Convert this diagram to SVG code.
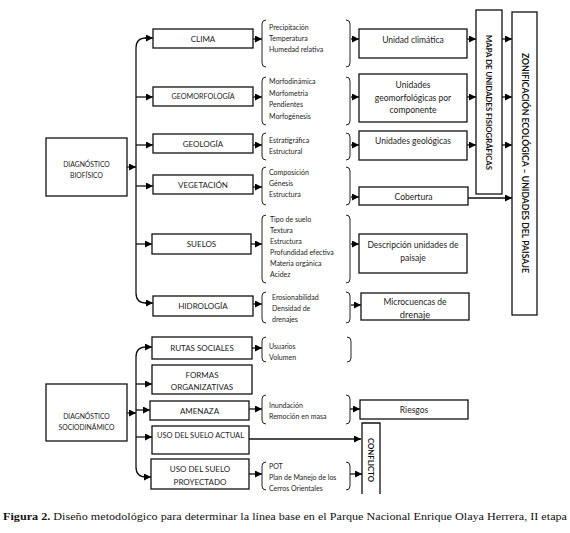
<svg xmlns="http://www.w3.org/2000/svg" width="570" height="533" viewBox="0 0 570 533">
<defs>
<marker id="ah" viewBox="0 0 10 10" refX="10" refY="5" markerWidth="7" markerHeight="7" markerUnits="userSpaceOnUse" orient="auto">
<path d="M0,0 L10,5 L0,10 z" fill="#000"/>
</marker>
<style>
.b{fill:#fff;stroke:#111;stroke-width:1.3}
.c{fill:none;stroke:#111;stroke-width:1.3;marker-end:url(#ah)}
.l{fill:none;stroke:#111;stroke-width:1.3}
.br{fill:none;stroke:#222;stroke-width:1}
.t{font-family:Lato,"Liberation Sans",sans-serif;font-size:8px;fill:#222;text-anchor:middle;dominant-baseline:central}
.s{font-family:Lato,"Liberation Sans",sans-serif;font-size:7px;fill:#222}
.u{font-family:Lato,"Liberation Sans",sans-serif;font-size:8.5px;fill:#222;text-anchor:middle;dominant-baseline:central}
.v{font-family:Lato,"Liberation Sans",sans-serif;font-weight:bold;fill:#111;text-anchor:middle;dominant-baseline:central}
</style>
</defs>
<rect width="570" height="533" fill="#fff"/>

<g id="connectors">
<!-- biofisico -->
<line class="c" x1="127" y1="167" x2="136" y2="167"/>
<path class="l" d="M136,48 Q136,38 146,38 L146,38"/>
<line class="c" x1="145" y1="38" x2="153" y2="38"/>
<line class="l" x1="136" y1="48" x2="136" y2="293"/>
<path class="l" d="M136,293 Q136,303 146,303"/>
<line class="c" x1="145" y1="303" x2="153" y2="303"/>
<line class="c" x1="136" y1="97" x2="153" y2="97"/>
<line class="c" x1="136" y1="145" x2="153" y2="145"/>
<line class="c" x1="136" y1="186" x2="153" y2="186"/>
<line class="c" x1="136" y1="244" x2="152" y2="244"/>
<!-- boxes to braces -->
<line class="c" x1="253" y1="39" x2="262" y2="39"/>
<line class="c" x1="253" y1="97" x2="262" y2="97"/>
<line class="c" x1="253" y1="145" x2="262" y2="145"/>
<line class="c" x1="253" y1="187" x2="262" y2="187"/>
<line class="c" x1="251" y1="244" x2="262" y2="244"/>
<line class="c" x1="253" y1="304" x2="262" y2="304"/>
<!-- braces to result boxes -->
<line class="c" x1="351" y1="39" x2="359" y2="39"/>
<line class="c" x1="351" y1="97" x2="359" y2="97"/>
<line class="c" x1="351" y1="145" x2="359" y2="145"/>
<line class="c" x1="351" y1="197" x2="359" y2="197"/>
<line class="c" x1="351" y1="244" x2="359" y2="244"/>
<line class="c" x1="351" y1="305" x2="361" y2="305"/>
<!-- to mapa / zonificacion -->
<line class="c" x1="467" y1="39" x2="476" y2="39"/>
<line class="c" x1="467" y1="97" x2="476" y2="97"/>
<line class="c" x1="467" y1="145" x2="476" y2="145"/>
<line class="c" x1="502" y1="39" x2="512" y2="39"/>
<line class="c" x1="502" y1="97" x2="512" y2="97"/>
<line class="c" x1="502" y1="145" x2="512" y2="145"/>
<line class="c" x1="468" y1="198" x2="512" y2="198"/>
<!-- sociodinamico -->
<line class="c" x1="127" y1="413" x2="136" y2="413"/>
<path class="l" d="M136,357 Q136,347 146,347"/>
<line class="c" x1="145" y1="347" x2="152" y2="347"/>
<line class="l" x1="136" y1="357" x2="136" y2="467"/>
<path class="l" d="M136,467 Q136,477 146,477"/>
<line class="c" x1="145" y1="477" x2="151" y2="477"/>
<line class="c" x1="136" y1="384" x2="152" y2="384"/>
<line class="c" x1="136" y1="410" x2="150" y2="410"/>
<line class="c" x1="136" y1="437" x2="152" y2="437"/>
<line class="c" x1="252" y1="348" x2="262" y2="348"/>
<line class="c" x1="249" y1="409" x2="262" y2="409"/>
<line class="c" x1="249" y1="474" x2="262" y2="474"/>
<line class="c" x1="350" y1="409" x2="360" y2="409"/>
<line class="c" x1="350" y1="474" x2="362" y2="474"/>
<line class="c" x1="249" y1="439" x2="361" y2="439"/>
</g>

<g id="braces">
<path class="br" d="M266,20 Q262,20 262,24 V63 Q262,67 266,67"/>
<path class="br" d="M346,20 Q350,20 350,24 V63 Q350,67 346,67"/>
<path class="br" d="M266,77 Q262,77 262,81 V121 Q262,125 266,125"/>
<path class="br" d="M346,77 Q350,77 350,81 V121 Q350,125 346,125"/>
<path class="br" d="M266,133 Q262,133 262,137 V156 Q262,160 266,160"/>
<path class="br" d="M346,133 Q350,133 350,137 V156 Q350,160 346,160"/>
<path class="br" d="M266,167 Q262,167 262,171 V201 Q262,205 266,205"/>
<path class="br" d="M346,167 Q350,167 350,171 V201 Q350,205 346,205"/>
<path class="br" d="M266,215 Q262,215 262,219 V279 Q262,283 266,283"/>
<path class="br" d="M346,215 Q350,215 350,219 V279 Q350,283 346,283"/>
<path class="br" d="M266,292 Q262,292 262,296 V319 Q262,323 266,323"/>
<path class="br" d="M346,292 Q350,292 350,296 V319 Q350,323 346,323"/>
<path class="br" d="M266,337 Q262,337 262,341 V358 Q262,362 266,362"/>
<path class="br" d="M347,337 Q351,337 351,341 V358 Q351,362 347,362"/>
<path class="br" d="M266,395 Q262,395 262,399 V420 Q262,424 266,424"/>
<path class="br" d="M346,395 Q350,395 350,399 V420 Q350,424 346,424"/>
<path class="br" d="M266,462 Q262,462 262,466 V486 Q262,490 266,490"/>
<path class="br" d="M346,462 Q350,462 350,466 V486 Q350,490 346,490"/>
</g>

<g id="diag-biofisico">
<rect class="b" x="46" y="138" width="81" height="58"/>
<text class="t" style="font-size:6.8px" x="86.5" y="164">DIAGNÓSTICO</text>
<text class="t" style="font-size:6.8px" x="86.5" y="175">BIOFÍSICO</text>
</g>
<g id="clima"><rect class="b" x="153" y="29" width="100" height="19"/><text class="t" x="203" y="38.5">CLIMA</text></g>
<g id="geomorfologia"><rect class="b" x="153" y="87" width="100" height="19"/><text class="t" style="font-size:7.2px" x="203" y="96.5">GEOMORFOLOGÍA</text></g>
<g id="geologia"><rect class="b" x="153" y="134" width="100" height="19"/><text class="t" x="203" y="143.5">GEOLOGÍA</text></g>
<g id="vegetacion"><rect class="b" x="153" y="175" width="100" height="19"/><text class="t" x="203" y="184.5">VEGETACIÓN</text></g>
<g id="suelos"><rect class="b" x="152" y="234" width="99" height="20"/><text class="t" x="201.5" y="244">SUELOS</text></g>
<g id="hidrologia"><rect class="b" x="153" y="296" width="100" height="20"/><text class="t" x="203" y="306">HIDROLOGÍA</text></g>

<g id="clima-vars" class="s">
<text x="269" y="30">Precipitación</text>
<text x="269" y="41">Temperatura</text>
<text x="269" y="52">Humedad relativa</text>
</g>
<g id="geomorf-vars" class="s">
<text x="269" y="84">Morfodinámica</text>
<text x="269" y="95.5">Morfometria</text>
<text x="269" y="107">Pendientes</text>
<text x="269" y="118.5">Morfogénesis</text>
</g>
<g id="geologia-vars" class="s">
<text x="269" y="142.5">Estratigráfica</text>
<text x="269" y="153.5">Estructural</text>
</g>
<g id="vegetacion-vars" class="s">
<text x="269" y="174.5">Composición</text>
<text x="269" y="185.5">Génesis</text>
<text x="269" y="196.5">Estructura</text>
</g>
<g id="suelos-vars" class="s">
<text x="270" y="221.5">Tipo de suelo</text>
<text x="270" y="232.5">Textura</text>
<text x="270" y="243.5">Estructura</text>
<text x="270" y="254.5">Profundidad efectiva</text>
<text x="270" y="265.5">Materia orgánica</text>
<text x="270" y="277">Acidez</text>
</g>
<g id="hidrologia-vars" class="s">
<text x="272" y="299.5">Erosionabilidad</text>
<text x="272" y="310.5">Densidad de</text>
<text x="272" y="321.5">drenajes</text>
</g>

<g id="unidad-climatica"><rect class="b" x="359" y="29" width="108" height="29"/><text class="u" x="413" y="39.5">Unidad climática</text></g>
<g id="unidades-geomorf"><rect class="b" x="359" y="74" width="108" height="48"/>
<text class="u" x="413" y="85">Unidades</text><text class="u" x="413" y="97.5">geomorfológicas por</text><text class="u" x="413" y="109.5">componente</text></g>
<g id="unidades-geologicas"><rect class="b" x="359" y="131" width="108" height="29"/><text class="u" x="413" y="141">Unidades geológicas</text></g>
<g id="cobertura"><rect class="b" x="359" y="187" width="109" height="18"/><text class="u" x="413.5" y="196.5">Cobertura</text></g>
<g id="descripcion"><rect class="b" x="359" y="234" width="108" height="39"/><text class="u" x="413" y="245">Descripción unidades de</text><text class="u" x="413" y="258">paisaje</text></g>
<g id="microcuencas"><rect class="b" x="361" y="293" width="108" height="27"/><text class="u" x="415" y="302">Microcuencas de</text><text class="u" style="font-size:9.3px" x="415" y="314">drenaje</text></g>

<g id="mapa"><rect class="b" x="476" y="10" width="26" height="184"/>
<text class="v" style="font-size:7px" transform="translate(489,102.5) rotate(90)" x="0" y="0" textLength="135" lengthAdjust="spacingAndGlyphs">MAPA DE UNIDADES FISIOGRÁFICAS</text></g>
<g id="zonificacion"><rect class="b" x="512" y="12" width="25" height="303"/>
<text class="v" style="font-size:8.5px" transform="translate(524.5,163) rotate(90)" x="0" y="0" textLength="220" lengthAdjust="spacingAndGlyphs">ZONIFICACIÓN ECOLÓGICA – UNIDADES DEL PAISAJE</text></g>

<g id="diag-sociodinamico">
<rect class="b" x="46" y="384" width="81" height="57"/>
<text class="t" style="font-size:6.8px" x="86.5" y="416">DIAGNÓSTICO</text>
<text class="t" style="font-size:6.8px" x="86.5" y="427">SOCIODINÁMICO</text>
</g>
<g id="rutas"><rect class="b" x="152" y="337" width="100" height="22"/><text class="t" x="202" y="347.5">RUTAS SOCIALES</text></g>
<g id="formas"><rect class="b" x="152" y="365" width="100" height="29"/><text class="t" x="202" y="375">FORMAS</text><text class="t" x="202" y="387">ORGANIZATIVAS</text></g>
<g id="amenaza"><rect class="b" x="150" y="401" width="99" height="19"/><text class="t" x="199.5" y="410.5">AMENAZA</text></g>
<g id="uso-actual"><rect class="b" x="152" y="426" width="97" height="28"/><text class="t" style="font-size:7.5px" x="200.5" y="435">USO DEL SUELO ACTUAL</text></g>
<g id="uso-proyectado"><rect class="b" x="151" y="459" width="98" height="30"/><text class="t" x="200" y="469">USO DEL SUELO</text><text class="t" x="200" y="481.5">PROYECTADO</text></g>

<g id="rutas-vars" class="s"><text x="269" y="348.5">Usuarios</text><text x="269" y="359.5">Volumen</text></g>
<g id="amenaza-vars" class="s"><text x="269" y="407.5">Inundación</text><text x="269" y="418.5">Remoción en masa</text></g>
<g id="proyectado-vars" class="s"><text x="269" y="468.5">POT</text><text x="269" y="479.5">Plan de Manejo de los</text><text x="269" y="490.5">Cerros Orientales</text></g>

<g id="riesgos"><rect class="b" x="360" y="400" width="108" height="19"/><text class="u" x="414" y="410">Riesgos</text></g>
<g id="conflicto"><path class="l" d="M362,494 V423 H380 V494"/>
<text class="v" style="font-size:7px" transform="translate(371,460) rotate(90)" x="0" y="0" textLength="44" lengthAdjust="spacingAndGlyphs">CONFLICTO</text></g>

<text x="285" y="520" text-anchor="middle" font-family="'Liberation Serif',serif" font-size="10.5" fill="#111" textLength="564" lengthAdjust="spacingAndGlyphs"><tspan font-weight="bold">Figura 2.</tspan> Diseño metodológico para determinar la línea base en el Parque Nacional Enrique Olaya Herrera, II etapa</text>
</svg>
